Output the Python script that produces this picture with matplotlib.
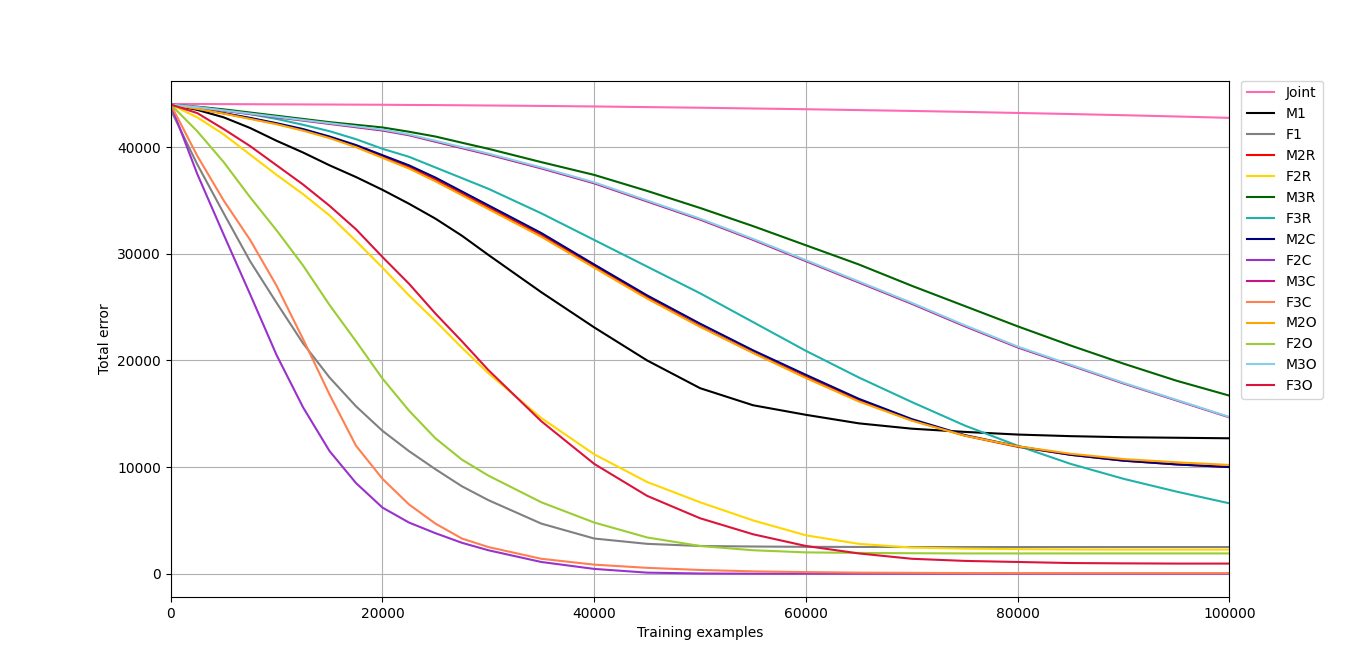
import numpy as np
import matplotlib
matplotlib.use('Agg')
import matplotlib.pyplot as plt


steps = [0, 2500, 5000, 7500, 10000, 12500, 15000, 17500, 20000, 22500, 25000,
         27500, 30000, 35000, 40000, 45000, 50000, 55000, 60000, 65000, 70000,
         75000, 80000, 85000, 90000, 95000, 100000]

joint = [44050, 44050, 44040, 44030, 44020, 44010, 44000, 43990, 43980, 43960,
         43950, 43930, 43910, 43870, 43820, 43760, 43700, 43630, 43560, 43480,
         43400, 43310, 43210, 43110, 43000, 42880, 42750]
m1 = [44000, 43500, 42800, 41800, 40600, 39500, 38300, 37200, 36000, 34700,
      33300, 31700, 29900, 26400, 23100, 20000, 17400, 15800, 14900, 14100,
      13600, 13300, 13050, 12900, 12800, 12750, 12700]
f1 = [43500, 38400, 33800, 29300, 25400, 21600, 18400, 15700, 13400, 11500,
      9800, 8200, 6900, 4700, 3300, 2800, 2600, 2550, 2520, 2510, 2500, 2500,
      2500, 2500, 2500, 2500, 2500]
m2r = [44000, 43620, 43170, 42700, 42200, 41620, 40920, 40080, 39100, 38120,
       36950, 35650, 34350, 31750, 28820, 25920, 23220, 20750, 18450, 16250,
       14400, 12950, 11900, 11150, 10600, 10250, 10000]
f2r = [44000, 42800, 41200, 39300, 37400, 35600, 33600, 31200, 28700, 26100,
       23700, 21200, 18800, 14600, 11200, 8600, 6700, 5000, 3600, 2800, 2450,
       2350, 2300, 2270, 2260, 2260, 2260]
m3r = [44000, 43800, 43550, 43250, 42950, 42650, 42350, 42100, 41850, 41450,
       41000, 40420, 39850, 38600, 37400, 35900, 34300, 32600, 30800, 29000,
       27000, 25100, 23200, 21400, 19700, 18100, 16700]
f3r = [44000, 43750, 43450, 43100, 42650, 42100, 41500, 40750, 39850, 39100,
       38100, 37100, 36100, 33800, 31300, 28800, 26300, 23600, 20900, 18400,
       16100, 13900, 12000, 10300, 8900, 7700, 6600]
m2c = [44000, 43650, 43200, 42750, 42250, 41700, 41000, 40200, 39250, 38300,
       37150, 35850, 34550, 31950, 29000, 26100, 23450, 20950, 18650, 16400,
       14500, 13000, 11950, 11150, 10600, 10250, 10000]
f2c = [44000, 37500, 31800, 26200, 20500, 15600, 11500, 8500, 6200, 4800,
       3800, 2900, 2200, 1100, 450, 100, 20, 0, 0, 0, 0, 0, 0, 0, 0, 0, 0]
m3c = [44000, 43730, 43420, 43110, 42800, 42490, 42180, 41870, 41560, 41120,
       40510, 39910, 39310, 38010, 36610, 34910, 33210, 31310, 29310, 27310,
       25310, 23210, 21220, 19530, 17840, 16250, 14660]
f3c = [44000, 39200, 35000, 31300, 27000, 22000, 16800, 12000, 8900, 6500,
       4700, 3300, 2500, 1400, 850, 550, 350, 220, 150, 100, 80, 60, 55, 50,
       50, 50, 50]
m2o = [44000, 43600, 43150, 42650, 42150, 41550, 40850, 40000, 39000, 38000,
       36800, 35500, 34200, 31600, 28700, 25800, 23150, 20700, 18350, 16150,
       14350, 12950, 11950, 11250, 10750, 10450, 10200]
f2o = [44000, 41500, 38600, 35300, 32200, 28900, 25200, 21800, 18300, 15300,
       12700, 10700, 9200, 6700, 4800, 3400, 2600, 2200, 2000, 1950, 1920,
       1900, 1900, 1900, 1900, 1900, 1900]
m3o = [44000, 43750, 43450, 43150, 42850, 42550, 42250, 41950, 41650, 41200,
       40600, 40000, 39400, 38100, 36700, 35000, 33300, 31400, 29400, 27400,
       25400, 23300, 21300, 19600, 17900, 16300, 14700]
f3o = [44000, 43200, 41700, 40100, 38300, 36500, 34500, 32300, 29700, 27200,
       24400, 21800, 19100, 14300, 10300, 7300, 5200, 3700, 2600, 1900, 1400,
       1200, 1100, 1000, 970, 950, 950]

names = ['Joint', 'M1', 'F1', 'M2R', 'F2R', 'M3R', 'F3R', 'M2C', 'F2C', 'M3C',
         'F3C', 'M2O', 'F2O', 'M3O', 'F3O']
series = [joint, m1, f1, m2r, f2r, m3r, f3r, m2c, f2c, m3c, f3c, m2o, f2o,
          m3o, f3o]
colors = ['hotpink', 'black', 'grey', 'red', 'gold', 'darkgreen',
          'lightseagreen', 'navy', 'darkorchid', 'mediumvioletred', 'coral',
          'orange', 'yellowgreen', 'skyblue', 'crimson']

fig = plt.figure(figsize=(13.66, 6.71), dpi=100)
ax = fig.add_subplot(111)
for name, vals, col in zip(names, series, colors):
    ax.plot(steps, vals, color=col, label=name)

ax.set_xlim(0, 100000)
ax.set_xlabel('Training examples')
ax.set_ylabel('Total error')
ax.grid(True)
ax.legend(loc='upper left', bbox_to_anchor=(1.011, 1), borderaxespad=0)
fig.savefig('out.png', dpi=100)
